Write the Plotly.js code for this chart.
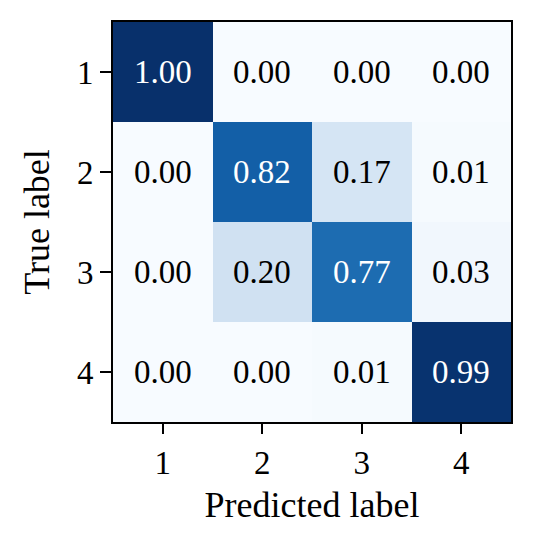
<!DOCTYPE html>
<html>
<head>
<meta charset="utf-8">
<script src="https://cdn.plot.ly/plotly-3.0.1.min.js"></script>
<style>
  html, body { margin: 0; padding: 0; background: #fff; }
  #cm { width: 535px; height: 549px; }
</style>
</head>
<body>
<div id="cm"></div>
<script>
// confusion matrix, rows = true label, cols = predicted label
const labels = ['1', '2', '3', '4'];
const row1 = [1.00, 0.00, 0.00, 0.00];
const row2 = [0.00, 0.82, 0.17, 0.01];
const row3 = [0.00, 0.20, 0.77, 0.03];
const row4 = [0.00, 0.00, 0.01, 0.99];
const matrix = [row1, row2, row3, row4];

// matplotlib "Blues"
const blues = [
    [0.000, '#f7fbff'], [0.125, '#deebf7'], [0.250, '#c6dbef'],
    [0.375, '#9ecae1'], [0.500, '#6baed6'], [0.625, '#4292c6'],
    [0.750, '#2171b5'], [0.875, '#08519c'], [1.000, '#08306b']
];

const font = 'Times New Roman, Liberation Serif, serif';

const trace = {
    type: 'heatmap',
    x: labels,
    y: labels,
    z: matrix,
    zmin: 0,
    zmax: 1,
    colorscale: blues,
    showscale: false,
    hoverinfo: 'skip'
};

// cell value labels, white on dark cells (category index positions)
const annotations = [];
matrix.forEach((row, i) => {
    row.forEach((v, j) => {
        annotations.push({
            x: j, y: i,
            text: v.toFixed(2),
            showarrow: false,
            font: { family: font, size: 33, color: v > 0.5 ? '#ffffff' : '#000000' }
        });
    });
});

const layout = {
    width: 535,
    height: 549,
    margin: { l: 113, r: 24, t: 22, b: 127 },
    paper_bgcolor: '#ffffff',
    plot_bgcolor: '#ffffff',
    font: { family: font, size: 33, color: '#000' },
    xaxis: {
        type: 'category',
        range: [-0.5, 3.5],
        title: { text: 'Predicted label', standoff: 12, font: { family: font, size: 36 } },
        tickfont: { family: font, size: 33 },
        ticks: 'outside', ticklen: 10, tickwidth: 2, tickcolor: '#000',
        showline: true, linewidth: 2, linecolor: '#000', mirror: true,
        showgrid: false, zeroline: false
    },
    yaxis: {
        type: 'category',
        range: [3.5, -0.5],
        title: { text: 'True label', standoff: 16, font: { family: font, size: 36 } },
        tickfont: { family: font, size: 33 },
        ticks: 'outside', ticklen: 11, tickwidth: 2, tickcolor: '#000',
        showline: true, linewidth: 2, linecolor: '#000', mirror: true,
        showgrid: false, zeroline: false
    },
    annotations: annotations
};

Plotly.newPlot('cm', [trace], layout, { staticPlot: true });
</script>
</body>
</html>
